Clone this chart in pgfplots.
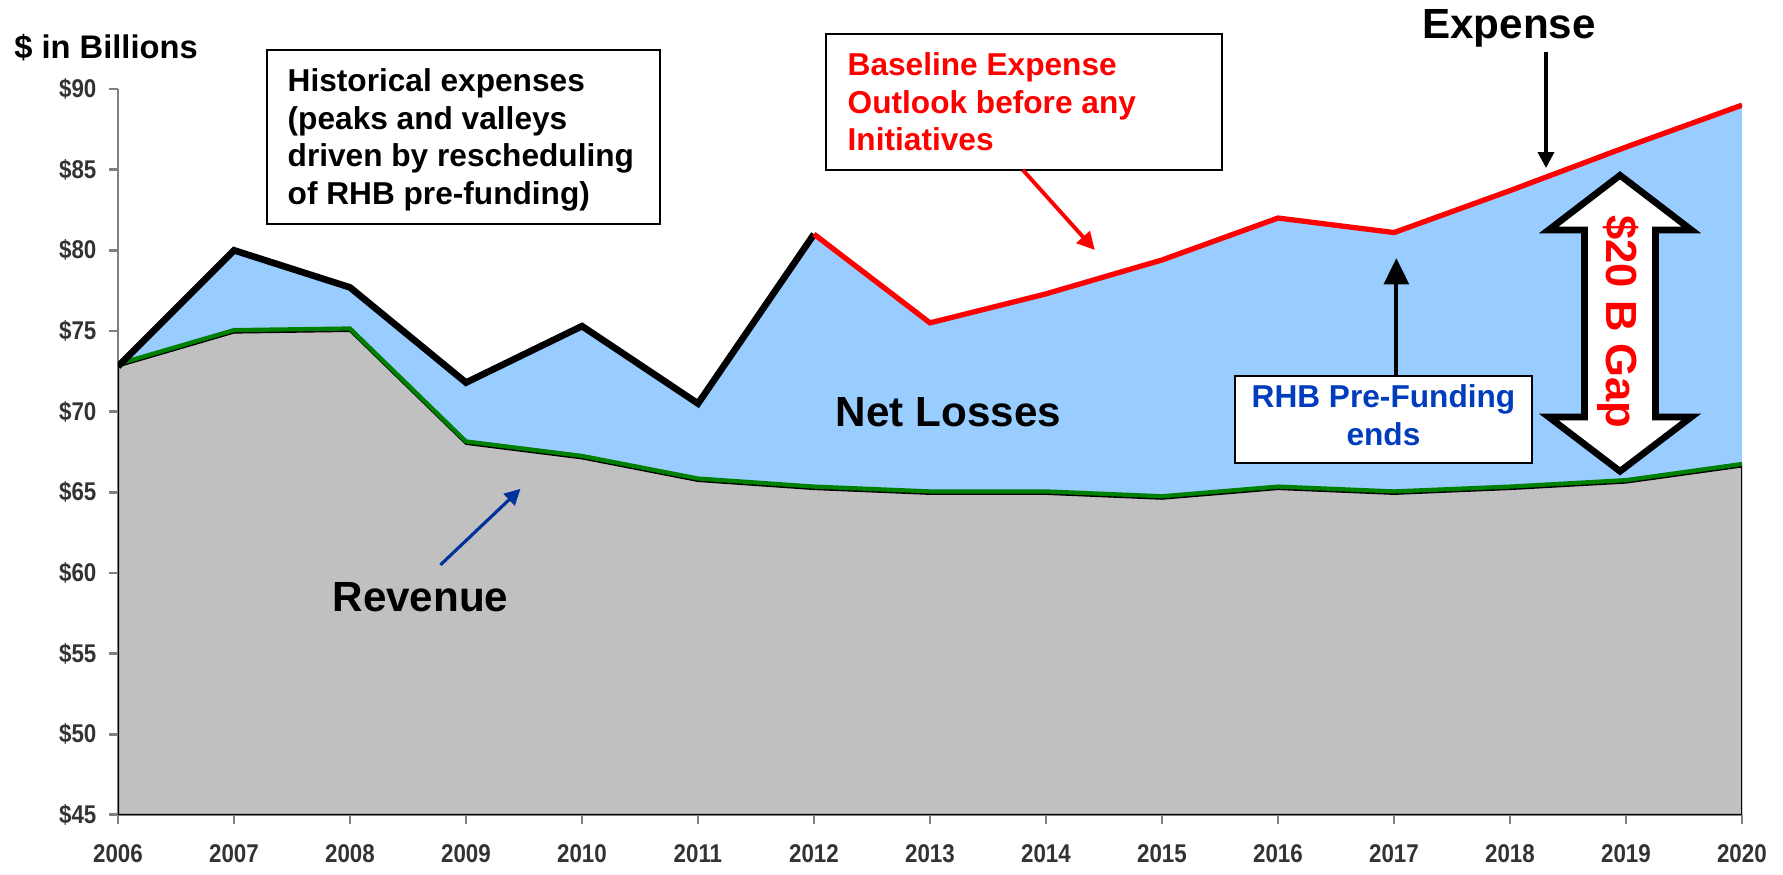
\documentclass[border=0pt]{standalone}
\usepackage{fontspec}
\setmainfont{Liberation Sans}
\newfontfamily\narrowfont[FakeStretch=0.87]{Liberation Sans}
\usepackage{pgfplots}
\usepackage{pgfplotstable}
\pgfplotsset{compat=1.18}
\usetikzlibrary{arrows.meta}

\definecolor{lossblue}{RGB}{153,204,255}
\definecolor{revgray}{RGB}{192,192,192}
\definecolor{revgreen}{RGB}{0,128,0}
\definecolor{axgray}{RGB}{128,128,128}
\definecolor{labgray}{RGB}{51,51,51}
\definecolor{rhbblue}{RGB}{0,60,190}
\definecolor{arrowblue}{RGB}{0,51,153}

% $ in billions
\pgfplotstableread{
year revenue expense
2006 72.8 72.8
2007 74.9 80.0
2008 75.0 77.7
2009 68.0 71.8
2010 67.1 75.3
2011 65.7 70.5
2012 65.2 81.0
2013 64.9 75.5
2014 64.9 77.3
2015 64.6 79.4
2016 65.2 82.0
2017 64.9 81.1
2018 65.2 83.7
2019 65.6 86.4
2020 66.6 89.0
}\budget

\begin{document}
\begin{tikzpicture}
\begin{axis}[
  scale only axis, width=462pt, height=206.5pt,
  xmin=2006, xmax=2020, ymin=45, ymax=90,
  axis lines*=left,
  axis line style={axgray, line width=0.8pt},
  tick style={axgray, line width=0.8pt},
  tick align=outside, major tick length=2.6pt,
  xtick={2006,2007,...,2020},
  xticklabels={2006,2007,2008,2009,2010,2011,2012,2013,2014,2015,2016,2017,2018,2019,2020},
  ytick={45,50,...,90},
  yticklabels={\$45,\$50,\$55,\$60,\$65,\$70,\$75,\$80,\$85,\$90},
  ticklabel style={font=\narrowfont\bfseries\fontsize{7.3}{8}\selectfont, text=labgray},
  xticklabel style={inner sep=0pt, yshift=-5.6pt},
  clip mode=individual,
]
% areas
\addplot[fill=lossblue, draw=none] table[x=year, y=expense] {\budget} \closedcycle;
\addplot[fill=revgray, draw=black, line width=0.6pt] table[x=year, y=revenue] {\budget} \closedcycle;
% lines
\addplot[revgreen, line width=1.2pt, yshift=0.7pt] table[x=year, y=revenue] {\budget};
\addplot[black, line width=1.9pt, restrict x to domain=2006:2012] table[x=year, y=expense] {\budget};
\addplot[red, line width=1.5pt, restrict x to domain=2012:2020] table[x=year, y=expense] {\budget};

% annotations
\node[anchor=base west, inner sep=0pt, font=\bfseries\fontsize{9.3}{11}\selectfont] at (axis cs:2005.10,91.86) {\$ in Billions};

\draw[black, line width=0.7pt, fill=white] (axis cs:2007.284,92.417) rectangle (axis cs:2010.672,81.632);
\node[anchor=north west, align=left, inner sep=0pt, font=\bfseries\fontsize{9}{10.7}\selectfont]
  at (axis cs:2007.457,91.30) {Historical expenses\\(peaks and valleys\\driven by rescheduling\\of RHB pre-funding)};

\draw[black, line width=0.7pt, fill=white] (axis cs:2012.103,93.409) rectangle (axis cs:2015.517,84.979);
\node[anchor=north west, align=left, inner sep=0pt, text=red, font=\bfseries\fontsize{9}{10.7}\selectfont]
  at (axis cs:2012.284,92.29) {Baseline Expense\\Outlook before any\\Initiatives};
\draw[red, line width=1.1pt, -{Triangle[width=5pt,length=5pt]}] (axis cs:2013.80,84.98) -- (axis cs:2014.42,80.02);

\node[anchor=base, inner sep=0pt, font=\bfseries\fontsize{12}{14}\selectfont] at (axis cs:2017.991,93.10) {Expense};
\draw[black, line width=1pt, -{Triangle[width=4.5pt,length=4.5pt]}] (axis cs:2018.31,92.3) -- (axis cs:2018.31,85.1);

\draw[black, line width=0.7pt, fill=white] (axis cs:2015.629,72.211) rectangle (axis cs:2018.190,66.818);
\node[anchor=north, align=center, inner sep=0pt, text=rhbblue, font=\bfseries\fontsize{9}{10.8}\selectfont]
  at (axis cs:2016.909,71.71) {RHB Pre-Funding\\ends};
\draw[black, line width=1.2pt, -{Triangle[width=7pt,length=7.5pt]}] (axis cs:2017.02,72.2) -- (axis cs:2017.02,79.52);

\node[anchor=base, inner sep=0pt, font=\bfseries\fontsize{12}{14}\selectfont] at (axis cs:2013.159,69.05) {Net Losses};
\node[anchor=base, inner sep=0pt, font=\bfseries\fontsize{12}{14}\selectfont] at (axis cs:2008.608,57.58) {Revenue};
\draw[arrowblue, line width=0.9pt, -{Triangle[width=4.5pt,length=4.5pt]}] (axis cs:2008.78,60.50) -- (axis cs:2009.47,65.21);

% $20 B gap double arrow
\draw[black, line width=1.9pt, fill=white, line join=miter]
  (axis cs:2018.948,84.65) -- (axis cs:2019.563,81.26) -- (axis cs:2019.254,81.26)
  -- (axis cs:2019.254,69.67) -- (axis cs:2019.563,69.67) -- (axis cs:2018.948,66.30)
  -- (axis cs:2018.333,69.67) -- (axis cs:2018.642,69.67) -- (axis cs:2018.642,81.26)
  -- (axis cs:2018.333,81.26) -- cycle;
\node[rotate=-90, inner sep=0pt, text=red, font=\bfseries\fontsize{12.4}{14}\selectfont] at (axis cs:2018.93,75.56) {\$20 B Gap};

% page extent
\path (axis cs:2004.983,41.28) rectangle (axis cs:2020.353,95.517);
\end{axis}
\end{tikzpicture}
\end{document}
